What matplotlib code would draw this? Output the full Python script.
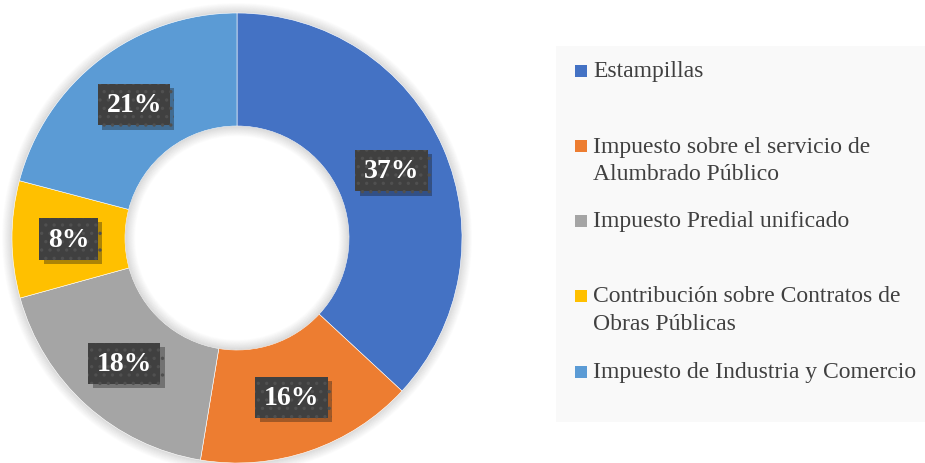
import numpy as np
import matplotlib.pyplot as plt
from matplotlib.patches import Wedge, Rectangle
import matplotlib.patheffects as pe

# data
categorias = ['Estampillas',
              'Impuesto sobre el servicio de\nAlumbrado Público',
              'Impuesto Predial unificado',
              'Contribución sobre Contratos de\nObras Públicas',
              'Impuesto de Industria y Comercio']
valores = [36.9, 15.7, 18.1, 8.4, 20.9]
colores = ['#4472C4', '#ED7D31', '#A5A5A5', '#FFC000', '#5B9BD5']

plt.rcParams['font.family'] = ['Liberation Serif', 'DejaVu Serif']
plt.rcParams['hatch.linewidth'] = 1.2

W, H = 925, 464
fig = plt.figure(figsize=(W / 100, H / 100), dpi=100)
ax = fig.add_axes([0, 0, 1, 1])

cx, cy = 237, H - 239
R = 225
ancho = 113

# soft shadow round the ring
for i in range(10):
    ax.add_patch(Wedge((cx, cy), R + 10 - i, 0, 360, width=1.2,
                       facecolor='#000000', alpha=0.012 * (i + 1), lw=0, zorder=0))

wedges, _ = ax.pie(valores, colors=colores, startangle=90, counterclock=False,
                   center=(cx, cy), radius=R,
                   wedgeprops=dict(width=ancho, edgecolor='white', linewidth=0.4))

# inner shadow of the hole
r_in = R - ancho
for i in range(10):
    ax.add_patch(Wedge((cx, cy), r_in - i, 0, 360, width=1.2,
                       facecolor='#000000', alpha=0.012 * (10 - i), lw=0, zorder=3))

# percentage labels
total = sum(valores)
ang = 90.0
r_lab = R - ancho / 2
for v in valores:
    mid = ang - v / total * 360 / 2
    ang -= v / total * 360
    x = cx + r_lab * np.cos(np.radians(mid))
    y = cy + r_lab * np.sin(np.radians(mid))
    t = ax.text(x, y, '%d%%' % round(v), ha='center', va='center', fontsize=20,
                fontweight='bold', color='white', zorder=5,
                bbox=dict(boxstyle='square,pad=0.3', facecolor='#404040',
                          edgecolor='#505050', hatch='..', lw=0))
    t.get_bbox_patch().set_path_effects(
        [pe.SimplePatchShadow(offset=(3, -3), alpha=0.35), pe.Normal()])

ax.set_xlim(0, W)
ax.set_ylim(0, H)
ax.set_aspect('equal')
ax.axis('off')

# legend drawn by hand
ax.add_patch(Rectangle((556, H - 423), W - 556, 376, facecolor='#F9F9F9',
                       lw=0, zorder=0))
ys = [72, 147, 222, 297, 373]
for cat, col, yy in zip(categorias, colores, ys):
    ax.add_patch(Rectangle((575, H - yy - 6), 12, 12, facecolor=col, lw=0))
    for j, linea in enumerate(cat.split('\n')):
        ax.text(593, H - yy - j * 27.5, linea, ha='left', va='center',
                fontsize=17, color='#404040')

fig.savefig('out.png', dpi=100)
